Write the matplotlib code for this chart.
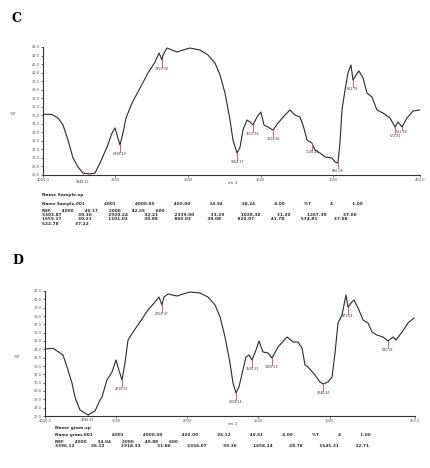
import numpy as np
import matplotlib
matplotlib.use("Agg")
import matplotlib.pyplot as plt

# ---------------- data ----------------
c_wn = [4000, 3876, 3793, 3724, 3655, 3586, 3517, 3448, 3352, 3283, 3214, 3117, 3048,
        3007, 2979, 2938, 2897, 2855, 2772, 2662, 2552, 2455, 2400, 2359, 2345, 2290,
        2221, 2152, 2069, 1986, 1917, 1862, 1814, 1779, 1745, 1710, 1690, 1662, 1641,
        1621, 1593, 1572, 1552, 1524, 1497, 1476, 1448, 1414, 1379, 1331, 1297, 1262,
        1228, 1207, 1179, 1145, 1124, 1090, 1055, 1007, 986, 966, 952, 938, 917, 897,
        876, 862, 841, 821, 793, 766, 731, 697, 655, 607, 572, 552, 524, 490, 448, 400]
c_t = [35.11, 35.09, 34.68, 33.86, 32.10, 29.99, 28.94, 28.23, 28.12, 28.23, 29.40, 31.28, 32.92,
       33.51, 32.69, 31.51, 32.92, 34.68, 36.44, 38.19, 39.95, 41.24, 42.30, 41.48, 42.06, 42.88,
       42.65, 42.41, 42.65, 42.88, 42.65, 42.06, 41.12, 39.72, 37.61, 34.44, 32.10, 30.58, 31.28,
       33.27, 34.44, 34.21, 33.86, 34.80, 35.38, 33.86, 33.62, 33.27, 34.09, 35.03, 35.62, 35.03,
       34.80, 33.86, 32.10, 31.75, 30.93, 30.58, 30.11, 29.99, 29.52, 29.40, 31.75, 35.62, 37.96, 39.95,
       40.89, 39.13, 39.72, 40.19, 39.37, 37.61, 37.14, 35.62, 35.26, 34.68, 33.62, 34.21, 33.62,
       34.68, 35.50, 35.62]
c_peaks = [3448, 2938, 2359, 1662, 1552, 1414, 1145, 966, 862, 572, 524]
c_peak_labels = ["3448.12", "2938.40", "2359.00", "1662.17", "1552.30", "1414.06",
                 "1145.21", "966.08", "861.78", "572.81", "522.78"]

d_wn = [4000, 3888, 3747, 3677, 3621, 3578, 3564, 3508, 3396, 3297, 3227, 3199, 3129, 3058,
        3002, 2974, 2918, 2876, 2833, 2763, 2665, 2553, 2454, 2398, 2356, 2328, 2271, 2145,
        2060, 1981, 1911, 1855, 1805, 1770, 1735, 1700, 1679, 1658, 1637, 1609, 1588, 1566,
        1545, 1517, 1496, 1468, 1433, 1405, 1363, 1299, 1257, 1222, 1194, 1173, 1152, 1103,
        1068, 1046, 1011, 983, 962, 941, 913, 885, 871, 843, 829, 800, 765, 730, 702, 667,
        625, 590, 555, 533, 491, 449, 407]
d_t = [34.04, 34.12, 33.32, 31.52, 29.96, 28.28, 27.92, 26.72, 26.12, 26.60, 27.92, 28.28, 30.32,
       31.28, 32.72, 31.88, 30.32, 32.36, 35.12, 36.08, 37.28, 38.72, 39.68, 40.28, 39.32, 40.28,
       40.64, 40.40, 40.64, 40.88, 40.76, 40.28, 39.32, 37.88, 35.48, 32.36, 29.96, 28.76, 29.48,
       31.52, 33.08, 33.32, 32.72, 33.92, 35.00, 33.68, 33.56, 32.96, 34.28, 35.48, 34.88, 34.88,
       34.16, 32.12, 31.88, 30.92, 30.08, 29.84, 30.08, 30.68, 33.56, 37.16, 38.12, 40.52, 39.08,
       39.68, 39.92, 38.96, 37.52, 37.16, 36.08, 35.72, 35.48, 35.00, 35.48, 35.12, 36.08, 37.16,
       37.76]
d_peaks = [3396, 2918, 2356, 1658, 1545, 1405, 1046, 871, 590]
d_peak_labels = ["3396.12", "2918.33", "2356.07", "1658.24", "1545.31", "1405.62",
                 "1046.35", "871.04", "590.18"]

x_ticks = [4000, 3000, 2000, 1500, 1000, 400]
x_tick_labels = ["4000.0", "3000", "2000", "1500", "1000", "400.0"]

c_text = [["Name", "Sample.sp"],
          ["Name Sample.001", "4001", "4000.00", "400.00", "34.94", "28.24", "4.00", "%T", "4", "1.00"],
          ["REF", "4000", "40.17", "2000", "42.59", "600"],
          ["3303.87", "30.30", "2920.24", "32.21", "2339.00", "33.29", "1028.30", "31.20", "1267.30", "37.00"],
          ["1659.17", "30.21", "1101.02", "30.88", "860.03", "38.08", "820.07", "41.78", "574.81", "37.08"],
          ["522.78", "37.22"]]
d_text = [["Name", "gram.sp"],
          ["Name gram.001", "4001", "4000.00", "400.00", "26.12", "40.61", "4.00", "%T", "4", "1.00"],
          ["REF", "4000", "34.04", "2000", "40.88", "600"],
          ["3396.12", "26.12", "2918.33", "31.86", "2356.07", "39.36", "1658.24", "28.78", "1545.31", "32.71"]]

# ---------------- figure ----------------
W, H = 430, 468
fig = plt.figure(figsize=(W / 100, H / 100), dpi=100)
fig.patch.set_facecolor("white")


def fwd(x):
    x = np.asarray(x, dtype=float)
    return np.where(x > 2000, 2000 + (x - 2000) / 2.0, x)


def inv(y):
    y = np.asarray(y, dtype=float)
    return np.where(y > 2000, 2000 + 2.0 * (y - 2000), y)


def panel(rect, wn, t, peaks, plabels, offs, ylo, yhi, letter, letter_xy, ylab_xy, xlab_xy,
          lines, text_xy, line_dy, sizes, gaps):
    l, b, w, h = rect
    ax = fig.add_axes([l / W, 1 - b / H, w / W, h / H])
    ax.set_xscale("function", functions=(fwd, inv))
    ax.plot(wn, t, color="#2a2a2a", lw=0.8, solid_joinstyle="round")
    ax.set_xlim(4000, 400)
    ax.set_ylim(ylo, yhi)
    ax.set_xticks(x_ticks)
    ax.set_xticklabels(x_tick_labels)
    yt = np.arange(ylo, yhi + 0.01, 1.0)
    ax.set_yticks(yt)
    ax.set_yticklabels([f"{v:.1f}" for v in yt])
    ax.tick_params(axis="both", labelsize=2.6, length=1.5, width=0.5, pad=1,
                   colors="#333333", labelcolor="#555555")
    for s in ("top", "right"):
        ax.spines[s].set_visible(False)
    for s in ("left", "bottom"):
        ax.spines[s].set_linewidth(0.8)
        ax.spines[s].set_color("#333333")
    # peak markers
    for p, lab, off in zip(peaks, plabels, offs):
        yv = float(np.interp(p, wn[::-1], t[::-1]))
        ax.plot([p, p], [yv, yv - off], color="#e06060", lw=0.7)
        ax.text(p, yv - off - 0.05, lab, fontsize=2.3, ha="center", va="top",
                color="#333333")
    fig.text(letter_xy[0] / W, 1 - letter_xy[1] / H, letter, fontsize=9,
             fontweight="bold", family="DejaVu Serif", ha="left", va="center")
    fig.text(ylab_xy[0] / W, 1 - ylab_xy[1] / H, "%T", fontsize=3, ha="left",
             va="center", color="#444444")
    fig.text(xlab_xy[0] / W, 1 - xlab_xy[1] / H, "cm-1", fontsize=3, ha="center",
             va="center", color="#444444")
    for i, toks in enumerate(lines):
        line = (" " * gaps[i]).join(toks)
        fig.text(text_xy[0] / W, 1 - (text_xy[1] + line_dy[i]) / H, line,
                 fontsize=sizes[i], ha="left", va="center",
                 color="#2a2a2a", family="DejaVu Sans", fontweight="bold")
    return ax


panel((43, 175, 377, 128), c_wn, c_t, c_peaks, c_peak_labels,
      [0.8, 0.8, 0.8, 0.8, 0.8, 0.8, 0.8, 0.6, 0.8, 0.8, 0.3],
      28.0, 43.0, "C", (12, 18), (10, 114), (233, 183), c_text, (42, 195),
      [0, 9, 16, 20.2, 24.4, 28.6], [3.2, 3.0, 3.0, 3.1, 3.1, 3.1],
      [1, 14, 8, 11, 11, 11])
panel((45, 416, 370, 125), d_wn, d_t, d_peaks, d_peak_labels,
      [0.3, 0.8, 0.8, 0.8, 0.8, 0.8, 0.8, 0.8, 0.8],
      26.0, 41.0, "D", (12, 260), (14, 357), (233, 424), d_text, (55, 428),
      [0, 7, 14, 18.2], [3.2, 3.0, 3.0, 3.1],
      [1, 14, 8, 11])

fig.savefig("out.png", dpi=100, facecolor="white")
